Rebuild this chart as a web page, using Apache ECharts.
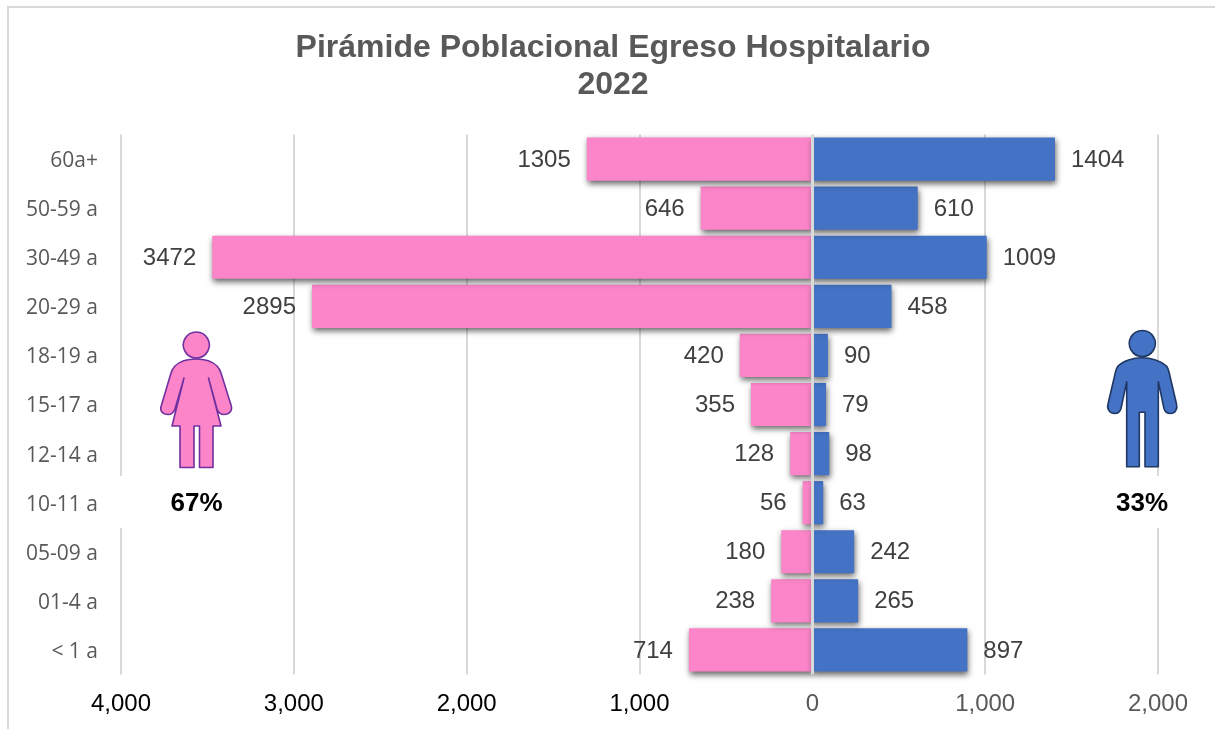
<!DOCTYPE html>
<html><head><meta charset="utf-8">
<style>html,body{margin:0;padding:0;background:#fff}#c{width:1215px;height:729px}</style>
<script src="https://cdn.jsdelivr.net/npm/echarts@6/dist/echarts.min.js"></script>
</head><body><div id="c"></div>
<script>
const titleLines = ['Pirámide Poblacional Egreso Hospitalario', '2022'];
const categories = ['< 1 a','01-4 a','05-09 a','10-11 a','12-14 a','15-17 a','18-19 a','20-29 a','30-49 a','50-59 a','60a+'];
const women = [714,238,180,56,128,355,420,2895,3472,646,1305];
const men = [897,265,242,63,98,79,90,458,1009,610,1404];
const womenShare = '67%';
const menShare = '33%';

const PINK='#FB85C8', BLUE='#4472C4', GRID='#D9D9D9', LBL='#404040';
const womanPath = 'M196.3 332a13 13 0 1 0 .01 0Z M196 359C187 359 179 362 175 366C173 368 172 370 171 373L161.5 405C159 411 163 414.5 168 414.5C171 414.5 173.5 413 175 409L184 378L172 426L180 426L180 467.5L194 467.5L194 426L199.5 426L199.5 467.5L213 467.5L213 426L221 426L208.5 378L217 409C218.5 413 221 414.5 224 414.5C229 414.5 233 411 231 405L221 373C220 370 219 368 217 366C213 362 205 359 196 359Z';
const manPath = 'M1142.3 330.5a13 13 0 1 0 .01 0Z M1142 357.7C1133 357.7 1123 361 1118 366C1116.5 368 1116 370 1115.5 372L1108 404C1106.5 409 1110 413.5 1114.5 413.5C1118 413.5 1120 412 1121 408.5L1126.7 381.7L1126.7 466.7L1139.3 466.7L1139.3 412.3L1145 412.3L1145 466.7L1158.3 466.7L1158.3 381.7L1164 408.5C1165 412 1167 413.5 1170.5 413.5C1175 413.5 1178 409 1176.5 404L1169 372C1168.5 370 1168 368 1166.5 366C1161 361 1151 357.7 1142 357.7Z';
const svgUri = (d,fill,stroke,vx,vy)=>'data:image/svg+xml;charset=utf-8,'+encodeURIComponent(
  `<svg xmlns="http://www.w3.org/2000/svg" width="85" height="150" viewBox="${vx} ${vy} 85 150"><path d="${d}" fill="${fill}" stroke="${stroke}" stroke-width="1.6" stroke-linejoin="round"/></svg>`);

const barShadow = {shadowColor:'rgba(0,0,0,0.6)',shadowBlur:6,shadowOffsetX:1,shadowOffsetY:3};
const dataLabel = {show:true,distance:16,offset:[0,1],fontFamily:'Liberation Sans',fontSize:24,color:LBL};
const chart = echarts.init(document.getElementById('c'));
chart.setOption({
  animation:false,
  backgroundColor:'#fff',
  grid:{left:121,right:57,top:134.5,bottom:54.5,containLabel:false},
  xAxis:{type:'value',min:-4000,max:2000,interval:1000,
    axisLine:{show:false},axisTick:{show:false},
    splitLine:{show:true,lineStyle:{color:GRID,width:2}},
    axisLabel:{margin:18,fontFamily:'Liberation Sans',fontSize:24,
      color:v=>Number(v)<0?'#000000':'#595959',
      formatter:v=>Math.abs(v).toLocaleString('en-US')}},
  yAxis:{type:'category',data:categories,position:'left',
    axisLine:{show:false},axisTick:{show:false},splitLine:{show:false},
    axisLabel:{margin:23,fontFamily:'Open Sans',fontSize:21,color:'#595959',verticalAlign:'top',lineHeight:4}},
  series:[
    {name:'Mujeres',type:'bar',barWidth:'88%',barGap:'-100%',
     data:women.map(v=>-v),
     itemStyle:Object.assign({color:PINK},barShadow),
     label:Object.assign({},dataLabel,{position:'left',formatter:p=>String(Math.abs(p.value))})},
    {name:'Hombres',type:'bar',barWidth:'88%',barGap:'-100%',
     data:men,
     itemStyle:Object.assign({color:BLUE},barShadow),
     label:Object.assign({},dataLabel,{position:'right'}),
     markLine:{silent:true,symbol:'none',label:{show:false},lineStyle:{color:GRID,width:3,type:'solid'},
       data:[{xAxis:0}]}}
  ],
  graphic:[
    {type:'rect',silent:true,z:0,shape:{x:8,y:7,width:1300,height:800},style:{fill:'none',stroke:GRID,lineWidth:2}},
    {type:'text',silent:true,z:5,x:613,y:48,style:{text:titleLines[0],align:'center',verticalAlign:'middle',font:'bold 32px "Liberation Sans"',fill:'#595959'}},
    {type:'text',silent:true,z:5,x:613,y:85,style:{text:titleLines[1],align:'center',verticalAlign:'middle',font:'bold 32px "Liberation Sans"',fill:'#595959'}},
    {type:'rect',silent:true,z:5,shape:{x:110,y:476,width:25,height:52},style:{fill:'#fff'}},
    {type:'rect',silent:true,z:5,shape:{x:1145,y:476,width:25,height:52},style:{fill:'#fff'}},
    {type:'image',silent:true,z:6,x:155,y:325,style:{image:svgUri(womanPath,PINK,'#7030A0',155,325),x:0,y:0,width:85,height:150}},
    {type:'image',silent:true,z:6,x:1100,y:325,style:{image:svgUri(manPath,BLUE,'#1F3864',1100,325),x:0,y:0,width:85,height:150}},
    {type:'text',silent:true,z:7,x:196.5,y:504,style:{text:womenShare,align:'center',verticalAlign:'middle',font:'bold 26px "Liberation Sans"',fill:'#000'}},
    {type:'text',silent:true,z:7,x:1142,y:504,style:{text:menShare,align:'center',verticalAlign:'middle',font:'bold 26px "Liberation Sans"',fill:'#000'}}
  ]
});
</script></body></html>
